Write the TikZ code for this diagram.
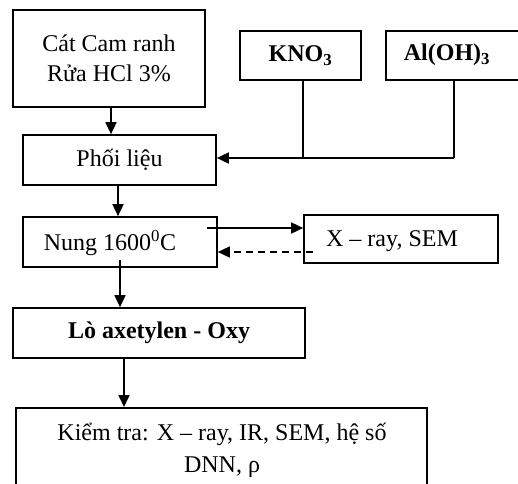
\documentclass[tikz,border=0pt]{standalone}
\usepackage{fontspec}
\setmainfont{Liberation Serif}
\usetikzlibrary{arrows.meta}
\begin{document}
\begin{tikzpicture}[x=1pt,y=-1pt,
  box/.style={draw, line width=1.7pt, inner sep=0pt, font=\fontsize{24}{30}\selectfont},
  conn/.style={line width=1.7pt},
  arr/.style={conn, -{Triangle[length=12pt,width=11pt]}}]
\useasboundingbox (0,0) rectangle (518,483);
\clip (0,0) rectangle (518,483);
\fill[white] (0,0) rectangle (518,483);
% boxes
\node[box, minimum width=192pt, minimum height=97pt, align=center] (cat) at (109,58.5) {Cát Cam ranh\\Rửa HCl 3\%};
\node[box, minimum width=121pt, minimum height=49pt] (kno) at (300.5,55.5) {\textbf{KNO\textsubscript{3}}};
\node[box, minimum width=150pt, minimum height=49pt] (alo) at (461,55.5) {};
\node[font=\fontsize{24}{30}\selectfont] (alot) at (447,55) {\textbf{Al(OH)\textsubscript{3}}};
\node[box, minimum width=193pt, minimum height=50pt] (phoi) at (119.5,160) {Phối liệu};
\node[box, minimum width=194pt, minimum height=50pt] (nung) at (120,242) {};
\node[font=\fontsize{24}{30}\selectfont] (nungt) at (110,243) {Nung 1600\textsuperscript{0}C};
\node[box, minimum width=194pt, minimum height=48pt] (xray) at (401,239) {};
\node[font=\fontsize{24}{30}\selectfont] (xrayt) at (392,241) {X – ray, SEM};
\node[box, minimum width=292pt, minimum height=50pt] (lo) at (159,333) {\textbf{Lò axetylen - Oxy}};
\node[box, minimum width=411pt, minimum height=90pt, anchor=north west] (kt) at (15,407) {};
\node[font=\fontsize{24}{32}\selectfont, align=center] (ktt) at (222,450) {Kiểm tra: X – ray, IR, SEM, hệ số\\DNN, ρ};
% connectors
\coordinate (k1) at (303,80);
\coordinate (j1) at (303,158);
\coordinate (j2) at (454,158);
\coordinate (a1) at (454,80);
\draw[conn] (k1) -- (j1);
\draw[conn] (a1) -- (j2);
\draw[arr] (j2) -- (phoi.east |- j2);
\draw[arr] (cat.south -| 111,0) -- (phoi.north -| 111,0);
\draw[arr] (phoi.south -| 118,0) -- (nung.north -| 118,0);
\coordinate (s1) at (207,228);
\draw[arr] (s1) -- (xray.west |- s1);
\coordinate (s2) at (313,252);
\draw[arr, dashed, dash pattern=on 7pt off 5pt] (s2) -- (nung.east |- s2);
\coordinate (s3) at (120,260);
\draw[arr] (s3) -- (lo.north -| s3);
\draw[arr] (lo.south -| 124,0) -- (kt.north -| 124,0);
\end{tikzpicture}
\end{document}
